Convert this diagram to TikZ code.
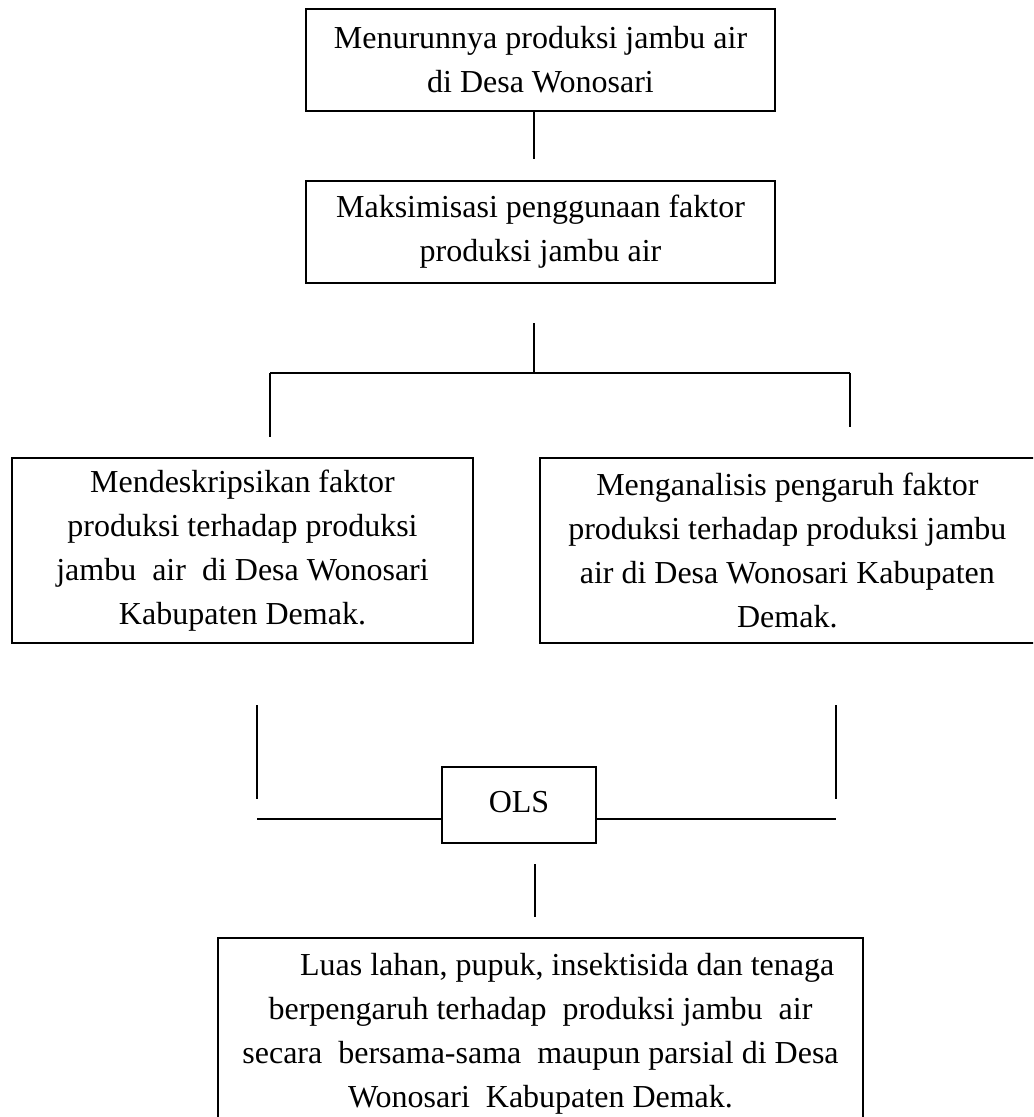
\documentclass[tikz,border=0pt]{standalone}
\usepackage{fontspec}
\setmainfont{Liberation Serif}
\begin{document}
\begin{tikzpicture}[x=0.75pt,y=-0.75pt,
  box/.style={draw, line width=0.8pt, inner sep=0pt, align=center,
    font=\fontsize{24}{33}\selectfont},
  conn/.style={line width=1.1pt}]
\useasboundingbox (0,0) rectangle (1033,1117);
\clip (0,0) rectangle (1033,1117);
\fill[white] (0,0) rectangle (1033,1117);

\node[box, minimum width=351.75pt, minimum height=76.5pt] (b1) at (540.5,60)
  {Menurunnya produksi jambu air\\di Desa Wonosari};
\node[box, minimum width=351.75pt, minimum height=76.5pt] (b2) at (540.5,232)
  {Maksimisasi penggunaan faktor\\produksi jambu air};
\node[box, minimum width=345.75pt, minimum height=138.75pt] (b3) at (242.5,550.5)
  {\raisebox{-4pt}{Mendeskripsikan faktor}\\\raisebox{-4pt}{produksi terhadap produksi}\\\raisebox{-4pt}{jambu\ \ air\ \ di Desa Wonosari}\\\raisebox{-4pt}{Kabupaten Demak.}};
\node[box, minimum width=375pt, minimum height=138.75pt] (b4) at (790,550.5)
  {\hspace*{-4pt}Menganalisis pengaruh faktor\\\hspace*{-4pt}produksi terhadap produksi jambu\\\hspace*{-4pt}air di Desa Wonosari Kabupaten\\\hspace*{-4pt}Demak.};
\node[box, minimum width=115.5pt, minimum height=57pt] (ols) at (519,805)
  {\raisebox{4pt}{OLS}};
\node[box, minimum width=483.75pt, minimum height=144pt] (b5) at (540.5,1034)
  {\hspace*{40pt}Luas lahan, pupuk, insektisida dan tenaga\\berpengaruh terhadap\ \ produksi jambu\ \ air\\secara\ \ bersama-sama\ \ maupun parsial di Desa\\Wonosari\ \ Kabupaten Demak.};

% connector points
\coordinate (c1) at (534,159);
\coordinate (c2a) at (534,323);
\coordinate (c2b) at (534,373);
\coordinate (hl) at (270,373);
\coordinate (hr) at (850,373);
\coordinate (vl) at (270,437);
\coordinate (vr) at (850,427);
\coordinate (dl1) at (257,705);
\coordinate (dl2) at (257,799);
\coordinate (dr1) at (836,705);
\coordinate (dr2) at (836,799);
\coordinate (ml) at (257,819);
\coordinate (mr) at (836,819);
\coordinate (e1) at (535,864);
\coordinate (e2) at (535,917);

\draw[conn] (b1.south -| c1) -- (c1);
\draw[conn] (c2a) -- (c2b);
\draw[conn] (hl) -- (hr);
\draw[conn] (hl) -- (vl);
\draw[conn] (hr) -- (vr);
\draw[conn] (dl1) -- (dl2);
\draw[conn] (dr1) -- (dr2);
\draw[conn] (ml) -- (ols.west |- ml);
\draw[conn] (ols.east |- mr) -- (mr);
\draw[conn] (e1) -- (e2);
\end{tikzpicture}
\end{document}
